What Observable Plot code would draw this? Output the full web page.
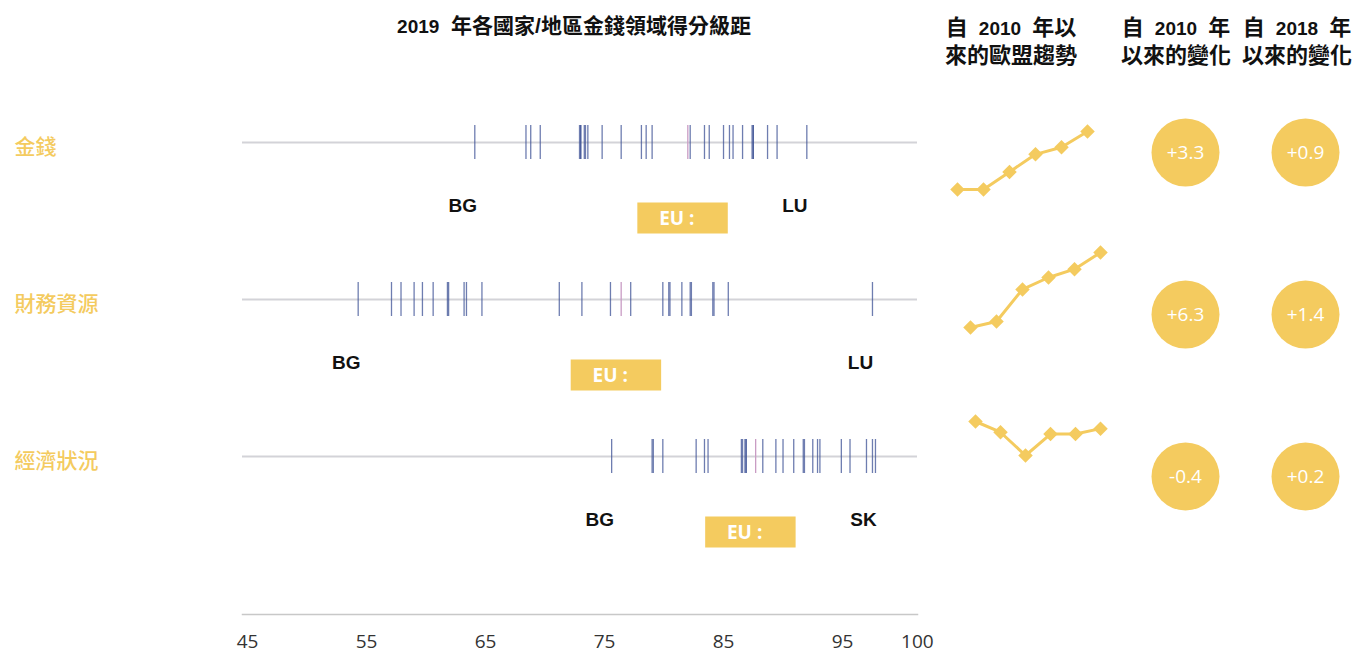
<!DOCTYPE html>
<html><head><meta charset="utf-8">
<script src="https://cdn.jsdelivr.net/npm/d3@7"></script>
<script src="https://cdn.jsdelivr.net/npm/@observablehq/plot@0.6"></script>
<style>
body{margin:0;background:#fff;}
#wrap{position:relative;width:1355px;height:653px;overflow:hidden;font-family:"Liberation Sans",Arial,"Noto Sans CJK TC",sans-serif;}
#wrap svg{position:absolute;left:0;top:0;}
.hd{position:absolute;font-weight:bold;color:#111;text-align:center;white-space:nowrap;font-size:22px;line-height:27px;}
.hd .n{font-size:19px;margin:0 5px;}
</style></head><body>
<div id="wrap">
  <div class="hd" style="left:374px;width:400px;top:12px;line-height:28px;font-size:21px;"><span class="n" style="margin:0">2019</span>&nbsp;&nbsp;年各國家/地區金錢領域得分級距</div>
  <div class="hd" style="left:911px;width:200px;top:14px;">自 <span class="n">2010</span> 年以<br>來的歐盟趨勢</div>
  <div class="hd" style="left:1076px;width:200px;top:14px;">自 <span class="n">2010</span> 年<br>以來的變化</div>
  <div class="hd" style="left:1197px;width:200px;top:14px;">自 <span class="n">2018</span> 年<br>以來的變化</div>
</div>
<script>
// ---- data ----
const rows = ["金錢", "財務資源", "經濟狀況"];
const moneyScores = [64.1, 68.4, 68.8, 69.6, 72.9, 73.0, 73.0, 73.3, 73.4, 73.6, 74.8, 76.4, 78.1, 78.5, 79.0, 82.2, 83.4, 83.8, 85.0, 85.5, 85.8, 86.6, 87.4, 87.5, 87.5, 88.7, 89.5, 92.0];
const financeScores = [54.3, 57.1, 57.9, 59.0, 59.7, 60.6, 61.8, 61.9, 63.2, 63.4, 64.7, 71.2, 73.1, 75.5, 77.2, 79.9, 80.4, 80.5, 81.5, 82.2, 82.3, 84.1, 84.2, 85.4, 97.0];
const economicScores = [75.6, 79.0, 79.1, 79.9, 82.7, 83.4, 83.7, 86.5, 86.6, 86.8, 86.9, 86.9, 88.3, 89.4, 90.0, 90.9, 91.7, 91.8, 92.5, 92.9, 93.1, 94.9, 95.5, 96.6, 97.0, 97.2];
const euScores = [82.0, 76.4, 87.7];
const minCountry = ["BG", "BG", "BG"];
const maxCountry = ["LU", "LU", "SK"];
const years = ["2010", "2012", "2015", "2017", "2018", "2019"];
const moneyTrend = [79.3, 79.3, 80.3, 81.3, 81.7, 82.6];
const financeTrend = [70.1, 70.6, 73.3, 74.3, 75.0, 76.4];
const economicTrend = [88.1, 87.5, 86.2, 87.4, 87.4, 87.7];
const changeSince2010 = ["+3.3", "+6.3", "-0.4"];
const changeSince2018 = ["+0.9", "+1.4", "+0.2"];
const changeCols = ["2010", "2018"];
const xTicks = [45, 55, 65, 75, 85, 95, 100];

// ---- derived tables ----
const scoreLists = [moneyScores, financeScores, economicScores];
const ticks = rows.flatMap((r, i) => scoreLists[i].map(v => ({row: r, value: v})));
const eu = rows.map((r, i) => ({row: r, value: euScores[i]}));
const extremes = rows.flatMap((r, i) => [
  {row: r, value: d3.min(scoreLists[i]), name: minCountry[i]},
  {row: r, value: d3.max(scoreLists[i]), name: maxCountry[i]}
]);
const changes = rows.flatMap((r, i) => [
  {row: r, col: changeCols[0], text: changeSince2010[i]},
  {row: r, col: changeCols[1], text: changeSince2018[i]}
]);

const GOLD = "#f4cb5f";
const TICK = "#3e5296";
const wrap = document.getElementById("wrap");
const overlay = "background: transparent; overflow: visible;";

// the original axis is stretched in its last segment (95 → 100)
const stretch = v => (v <= 95 ? v : 95 + (v - 95) * 1.258);

// ---- main strip chart ----
const main = Plot.plot({
  width: 1355, height: 653,
  marginLeft: 242, marginRight: 438, marginTop: 0, marginBottom: 39,
  style: overlay + " font-family: 'Open Sans', sans-serif; font-size: 19px; color: #333;",
  x: {type: "linear", transform: stretch, domain: [44.58, 101.3], range: [242, 917], label: null},
  y: {type: "band", domain: rows, range: [124, 473], paddingInner: 0.784, paddingOuter: 0, axis: null},
  marks: [
    Plot.frame({anchor: "bottom", stroke: "#c8c8c8", strokeWidth: 1.5}),
    Plot.axisX(xTicks, {tickSize: 0, tickPadding: 20, fontSize: 19, fill: "#333", label: null,
      fontFamily: "'Open Sans', sans-serif"}),
    Plot.ruleY(rows, {y: d => d, stroke: "#d3d3d8", strokeWidth: 2}),
    Plot.tickX(ticks, {x: "value", y: "row", stroke: TICK, strokeOpacity: 0.75, strokeWidth: 1.3}),
    Plot.tickX(eu, {x: "value", y: "row", stroke: "#c99cc4", strokeWidth: 1.3}),
    Plot.text(rows, {y: d => d, text: d => d, frameAnchor: "left", textAnchor: "start", dx: -228, dy: 5,
      fill: GOLD, fontSize: 21, fontWeight: 500, fontFamily: "'Noto Sans CJK TC', sans-serif"}),
    Plot.text(extremes, {x: "value", y: "row", text: "name", dx: -12, dy: 63,
      fill: "#111", fontSize: 19, fontWeight: "bold", fontFamily: "'Liberation Sans', Arial, sans-serif"}),
    Plot.barX(eu, {x1: d => d.value - 4.2, x2: d => d.value + 3.4, y: "row", dy: 76,
      insetTop: 1.5, insetBottom: 1.5, fill: GOLD}),
    Plot.text(eu, {x: "value", y: "row", text: () => "EU :", dx: -11, dy: 76.5,
      fill: "#fff", fontSize: 19, fontWeight: "bold", fontFamily: "'Open Sans', sans-serif"})
  ]
});
wrap.appendChild(main);

// ---- sparklines (EU trend since 2010) ----
const trends = [
  {values: moneyTrend, xr: [956, 1087], yr: [189, 131]},
  {values: financeTrend, xr: [969, 1100], yr: [327, 252]},
  {values: economicTrend, xr: [973, 1102], yr: [455, 421]}
];
for (const t of trends) {
  const data = years.map((y, i) => ({year: y, value: t.values[i]}));
  const sp = Plot.plot({
    width: 1355, height: 653, margin: 0,
    style: overlay,
    x: {type: "point", domain: years, range: t.xr, padding: 0, axis: null},
    y: {domain: d3.extent(t.values), range: t.yr, axis: null},
    marks: [
      Plot.line(data, {x: "year", y: "value", stroke: GOLD, strokeWidth: 3}),
      Plot.dot(data, {x: "year", y: "value", symbol: "square", rotate: 45, r: 5.8, fill: GOLD, stroke: "none"})
    ]
  });
  wrap.appendChild(sp);
}

// ---- change circles ----
const circ = Plot.plot({
  width: 1355, height: 653, margin: 0,
  style: overlay,
  x: {type: "point", domain: changeCols, range: [1185, 1305], padding: 0, axis: null},
  y: {type: "point", domain: rows, range: [151, 476], padding: 0, axis: null},
  marks: [
    Plot.dot(changes, {x: "col", y: "row", r: 34, fill: GOLD, stroke: "none"}),
    Plot.text(changes, {x: "col", y: "row", text: "text", fill: "#fff", fontSize: 19,
      fontFamily: "'Open Sans', sans-serif"})
  ]
});
wrap.appendChild(circ);
</script>
</body></html>
